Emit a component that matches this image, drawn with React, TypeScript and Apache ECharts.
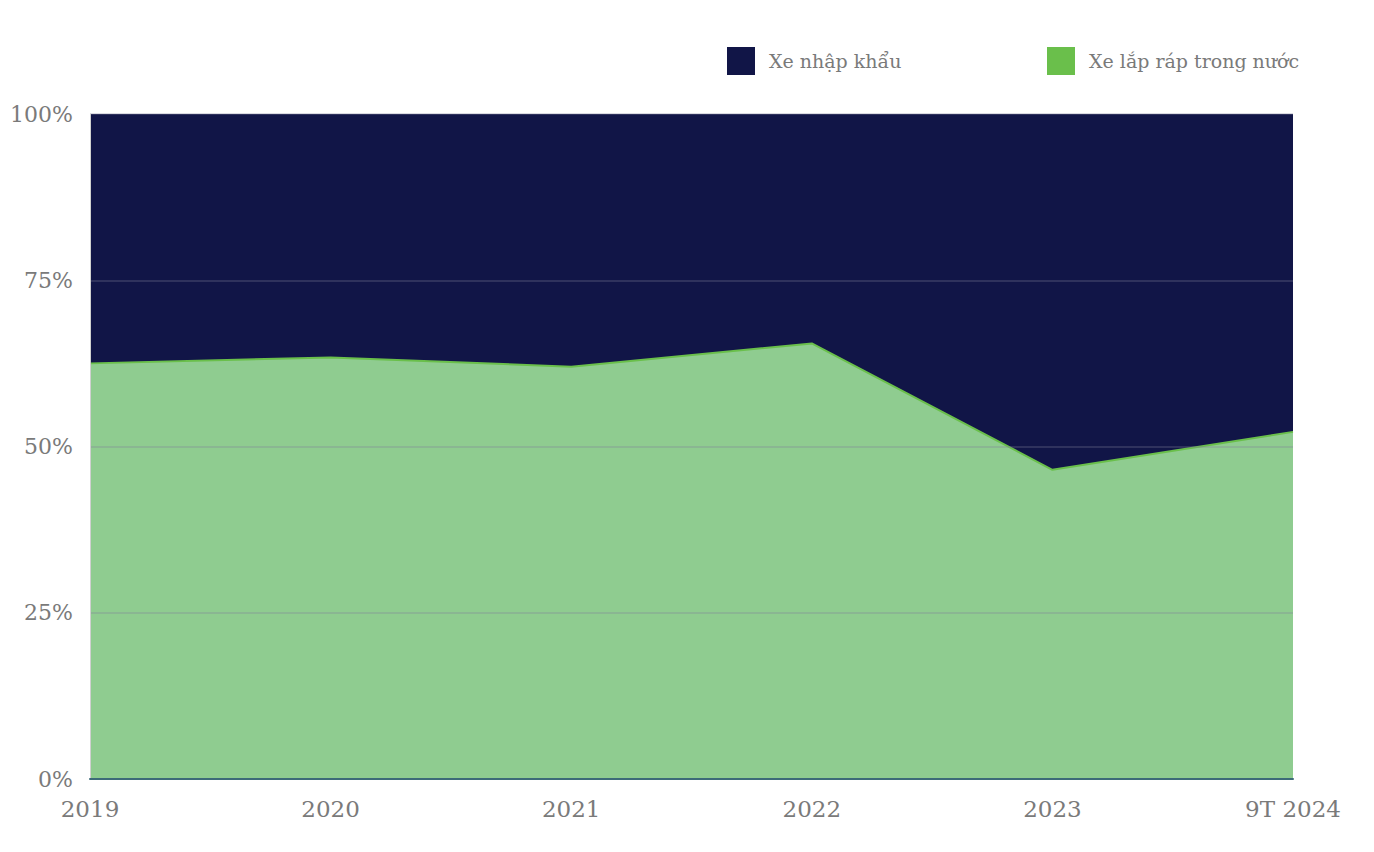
import React, { useEffect, useRef } from "react";
import * as echarts from "echarts";

const categories = ["2019", "2020", "2021", "2022", "2023", "9T 2024"];
const domesticShare = [62.5, 63.4, 62.0, 65.5, 46.5, 52.2];
const importedShare = [37.5, 36.6, 38.0, 34.5, 53.5, 47.8];
const seriesNames = ["Xe lắp ráp trong nước", "Xe nhập khẩu"];
const yTicks = [0, 25, 50, 75, 100];

const FONT = "'DejaVu Serif', serif";

export default function App() {
  const ref = useRef<HTMLDivElement>(null);
  useEffect(() => {
    if (!ref.current) return;
    const chart = echarts.init(ref.current, null, { renderer: "svg" });
    const legendText = { fontFamily: FONT, fontSize: 19, color: "#7a7a7a", padding: [0, 0, 0, 9] };
    chart.setOption({
      animation: false,
      textStyle: { fontFamily: FONT },
      legend: [
        {
          data: [seriesNames[1]],
          left: 727,
          top: 47,
          padding: 0,
          itemWidth: 28,
          itemHeight: 28,
          icon: "rect",
          textStyle: legendText,
        },
        {
          data: [seriesNames[0]],
          left: 1047,
          top: 47,
          padding: 0,
          itemWidth: 28,
          itemHeight: 28,
          icon: "rect",
          textStyle: legendText,
        },
      ],
      grid: { left: 90, right: 81, top: 114, bottom: 73, containLabel: false },
      xAxis: {
        type: "category",
        data: categories,
        boundaryGap: false,
        axisTick: { show: false },
        axisLine: { show: true, lineStyle: { color: "#3d6b78", width: 2 } },
        axisLabel: { fontFamily: FONT, fontSize: 23, color: "#7a7a7a", margin: 18 },
        splitLine: { show: false },
        z: 4,
      },
      yAxis: {
        type: "value",
        min: yTicks[0],
        max: yTicks[yTicks.length - 1],
        interval: 25,
        axisLine: { show: true, lineStyle: { color: "#d0d0d0", width: 1 } },
        axisTick: { show: false },
        axisLabel: {
          fontFamily: FONT,
          fontSize: 22,
          color: "#7a7a7a",
          margin: 17,
          formatter: (v: number) => v + "%",
        },
        splitLine: { show: true, lineStyle: { color: "rgba(125,125,150,0.28)", width: 2 } },
        z: 3,
      },
      series: [
        {
          name: seriesNames[0],
          type: "line",
          stack: "total",
          data: domesticShare,
          symbol: "none",
          itemStyle: { color: "#6abf4b" },
          lineStyle: { color: "#6abf4b", width: 2 },
          areaStyle: { color: "#8fcc90", opacity: 1 },
          z: 2,
        },
        {
          name: seriesNames[1],
          type: "line",
          stack: "total",
          data: importedShare,
          symbol: "none",
          itemStyle: { color: "#111547" },
          lineStyle: { width: 0 },
          areaStyle: { color: "#111547", opacity: 1 },
          z: 1,
        },
      ],
    });
    return () => chart.dispose();
  }, []);
  return <div ref={ref} style={{ width: 1374, height: 852, position: "absolute", left: 0, top: 0 }} />;
}
